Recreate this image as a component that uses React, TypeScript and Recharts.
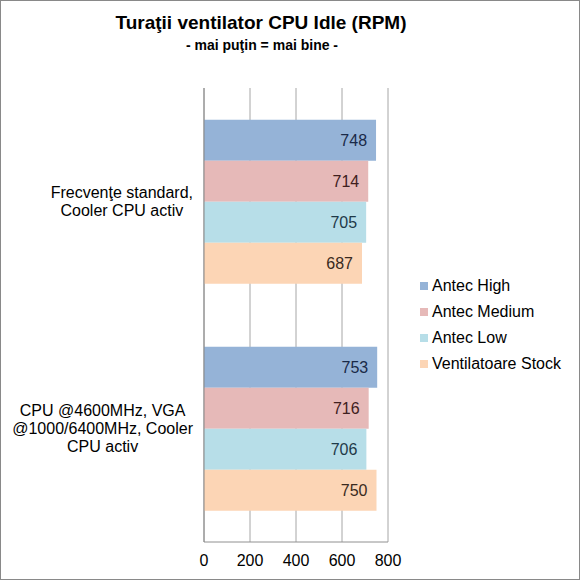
import React from "react";
import { BarChart, Bar, XAxis, YAxis, CartesianGrid, LabelList, Legend } from "recharts";

const categories = [
  "Frecvenţe standard, Cooler CPU activ",
  "CPU @4600MHz, VGA @1000/6400MHz, Cooler CPU activ",
];
const seriesNames = ["Antec High", "Antec Medium", "Antec Low", "Ventilatoare Stock"];
const antecHigh = [748, 753];
const antecMedium = [714, 716];
const antecLow = [705, 706];
const ventilatoareStock = [687, 750];
const xTicks = [0, 200, 400, 600, 800];

const seriesValues = [antecHigh, antecMedium, antecLow, ventilatoareStock];
const fills = ["#95B3D7", "#E6B9B8", "#B7DEE8", "#FCD5B5"];
const labelColors = ["#1A2A48", "#402020", "#1F3A48", "#3A2A20"];

const data = categories.map((c, i) => {
  const row: any = { category: c };
  seriesNames.forEach((s, j) => {
    row[s] = seriesValues[j][i];
  });
  return row;
});

const FONT = "'Liberation Sans', Arial, sans-serif";

let ctx: CanvasRenderingContext2D | null = null;
function measure(text: string): number {
  if (!ctx) {
    const c = document.createElement("canvas");
    ctx = c.getContext("2d");
  }
  if (ctx) {
    ctx.font = "16px 'Liberation Sans', Arial, sans-serif";
    return ctx.measureText(text).width;
  }
  return text.length * 8.5;
}

function wrap(text: string, maxW: number): string[] {
  const words = text.split(" ");
  const lines: string[] = [];
  let cur = "";
  words.forEach((w) => {
    const t = cur ? cur + " " + w : w;
    if (cur && measure(t) > maxW) {
      lines.push(cur);
      cur = w;
    } else {
      cur = t;
    }
  });
  if (cur) lines.push(cur);
  return lines;
}

const CategoryTick = (props: any) => {
  const { y, payload } = props;
  const lines = wrap(String(payload.value), 185);
  const blockW = Math.max(...lines.map(measure));
  const right = 193;
  const cx = right - blockW / 2;
  const lh = 18;
  return (
    <g>
      {lines.map((l, i) => (
        <text
          key={i}
          x={cx}
          y={y + (i - (lines.length - 1) / 2) * lh}
          dy="0.355em"
          textAnchor="middle"
          fontSize={16}
          fontFamily={FONT}
          fill="#000"
        >
          {l}
        </text>
      ))}
    </g>
  );
};

const LegendContent = () => (
  <div style={{ fontFamily: FONT, fontSize: 16, color: "#000" }}>
    {seriesNames.map((s, i) => (
      <div key={s} style={{ display: "flex", alignItems: "center", height: 26 }}>
        <span
          style={{
            display: "inline-block",
            width: 8,
            height: 8,
            background: fills[i],
            marginRight: 4,
          }}
        />
        <span>{s}</span>
      </div>
    ))}
  </div>
);

export default function App() {
  return (
    <div style={{ position: "absolute", left: 0, top: 0, width: 580, height: 580, background: "#fff" }}>
      <div
        style={{
          position: "absolute",
          left: 0,
          width: 522,
          top: 12,
          textAlign: "center",
          fontFamily: FONT,
          fontWeight: "bold",
          fontSize: 19,
          lineHeight: "22px",
          color: "#000",
        }}
      >
        Turaţii ventilator CPU Idle (RPM)
      </div>
      <div
        style={{
          position: "absolute",
          left: 0,
          width: 524,
          top: 37,
          textAlign: "center",
          fontFamily: FONT,
          fontWeight: "bold",
          fontSize: 14,
          lineHeight: "17px",
          color: "#000",
        }}
      >
        - mai puţin = mai bine -
      </div>
      <BarChart
        width={580}
        height={580}
        data={data}
        layout="vertical"
        margin={{ top: 88, right: 192, bottom: 8, left: 0 }}
        barCategoryGap="14%"
        barGap={0}
      >
        <CartesianGrid horizontal={false} stroke="#A6A6A6" />
        <XAxis
          type="number"
          domain={[0, 800]}
          ticks={xTicks}
          tickLine={false}
          tickMargin={7}
          axisLine={{ stroke: "#909090" }}
          tick={{ fontSize: 16, fontFamily: FONT, fill: "#000" }}
          height={30}
          interval={0}
        />
        <YAxis
          type="category"
          dataKey="category"
          width={204}
          tickLine={false}
          axisLine={{ stroke: "#868686" }}
          tick={<CategoryTick />}
          interval={0}
        />
        <Legend
          layout="vertical"
          align="center"
          verticalAlign="middle"
          content={<LegendContent />}
          wrapperStyle={{ left: 420, top: 273, width: 160 }}
        />
        {seriesNames.map((s, i) => (
          <Bar key={s} dataKey={s} fill={fills[i]} isAnimationActive={false}>
            <LabelList
              dataKey={s}
              position="insideRight"
              offset={9}
              fill={labelColors[i]}
              fontSize={16}
              fontFamily={FONT}
            />
          </Bar>
        ))}
      </BarChart>
      <div
        style={{
          position: "absolute",
          left: 0,
          top: 0,
          width: 580,
          height: 580,
          boxSizing: "border-box",
          border: "1px solid #898989",
          pointerEvents: "none",
        }}
      />
    </div>
  );
}
